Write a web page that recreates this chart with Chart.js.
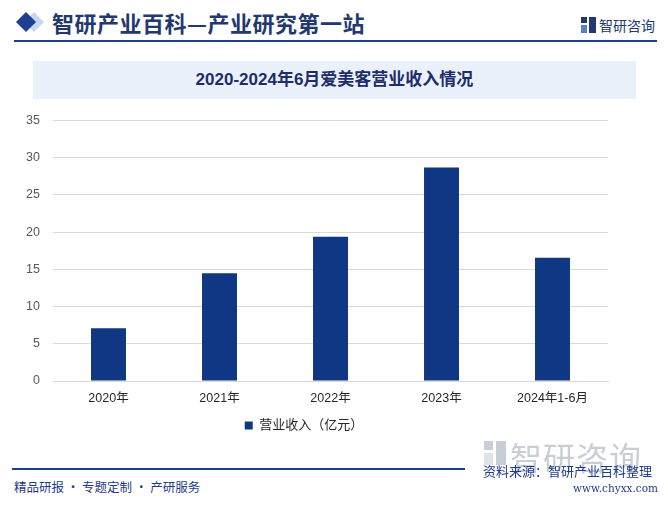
<!DOCTYPE html>
<html>
<head>
<meta charset="utf-8">
<script src="https://cdn.jsdelivr.net/npm/chart.js@4"></script>
<style>
  body { margin: 0; width: 668px; height: 505px; background: #fff; position: relative; overflow: hidden;
         font-family: "Liberation Sans", "Noto Sans CJK SC", sans-serif; }
  .abs { position: absolute; }
  #hdTitle { left: 52px; top: 6px; font-size: 22px; font-weight: bold; color: #22386f; letter-spacing: 0.5px;
             font-family: "Noto Sans CJK SC", sans-serif; }
  #hdLine { left: 14px; top: 40px; width: 643px; height: 2px; background: #1f3f94; }
  #logo { left: 599px; top: 15px; font-size: 14px; color: #22386f; font-family: "Noto Sans CJK SC", sans-serif; }
  #titleBox { left: 33px; top: 61px; width: 603px; height: 38px; background: #eaf1fb; text-align: center;
              line-height: 38px; font-size: 17px; font-weight: bold; color: #1c2d6b; }
  #ftLine { left: 12px; top: 468px; width: 453px; height: 2px; background: #1f3f94; }
  #ftLeft { left: 14px; top: 477px; font-size: 12.5px; color: #1f3b8c; font-family: "Noto Sans CJK SC", sans-serif; }
  #ftWm { left: 510px; top: 433px; font-size: 32px; color: #c9ced6; letter-spacing: 1px; font-family: "Noto Sans CJK SC", sans-serif; }
  #ftSrc { left: 483px; top: 461px; font-size: 13px; color: #1f3b8c; font-family: "Noto Sans CJK SC", sans-serif; }
  #ftUrl { left: 573px; top: 482px; font-size: 10.5px; color: #1f3b8c; font-family: "DejaVu Serif", serif; }
  canvas { position: absolute; left: 0; top: 100px; }
</style>
</head>
<body>
<svg class="abs" style="left:14px;top:10px" width="34" height="24">
  <polygon points="20,2 30,12 20,22 10,12" fill="#c9d6ee"/>
  <polygon points="12,2 22,12 12,22 2,12" fill="#1f3f94"/>
</svg>
<div class="abs" id="hdTitle">智研产业百科—产业研究第一站</div>
<div class="abs" id="hdLine"></div>
<svg class="abs" style="left:581px;top:17px" width="15" height="16">
  <rect x="0" y="0" width="6" height="6" fill="#22386f"/>
  <rect x="0" y="8" width="6" height="8" fill="#5b7fc4"/>
  <rect x="8" y="0" width="7" height="16" fill="#22386f"/>
</svg>
<div class="abs" id="logo">智研咨询</div>
<div class="abs" id="titleBox">2020-2024年6月爱美客营业收入情况</div>

<canvas id="chart" width="668" height="349"></canvas>

<svg class="abs" style="left:484px;top:441px" width="22" height="24">
  <rect x="0" y="0" width="9" height="9" fill="#c9ced6"/>
  <rect x="0" y="12" width="9" height="12" fill="#dde3ea"/>
  <rect x="12" y="0" width="10" height="24" fill="#c9ced6"/>
</svg>
<div class="abs" id="ftWm">智研咨询</div>
<div class="abs" id="ftLine"></div>
<div class="abs" id="ftLeft">精品研报 · 专题定制 · 产研服务</div>
<div class="abs" id="ftSrc">资料来源：智研产业百科整理</div>
<div class="abs" id="ftUrl">www.chyxx.com</div>

<script>
// 数据
const categories = ['2020年', '2021年', '2022年', '2023年', '2024年1-6月'];
const revenue = [7.09, 14.48, 19.39, 28.69, 16.55];
const seriesName = '营业收入（亿元）';
const yTicks = [0, 5, 10, 15, 20, 25, 30, 35];

const fontFam = '"Liberation Sans", "Noto Sans CJK SC", sans-serif';

new Chart(document.getElementById('chart'), {
  type: 'bar',
  data: {
    labels: categories,
    datasets: [{
      label: seriesName,
      data: revenue,
      backgroundColor: '#0f3783',
      borderWidth: 0,
      categoryPercentage: 1,
      barPercentage: 0.315
    }]
  },
  options: {
    responsive: false,
    animation: false,
    layout: { padding: { top: 20, right: 60, left: 0, bottom: 7 } },
    plugins: {
      tooltip: { enabled: false },
      legend: {
        position: 'bottom',
        labels: {
          usePointStyle: true, pointStyle: 'rect', boxWidth: 8, boxHeight: 8, padding: 8,
          color: '#262626', font: { family: fontFam, size: 13 }
        }
      }
    },
    scales: {
      x: {
        grid: { display: false },
        border: { color: '#d9d9d9' },
        ticks: { color: '#262626', padding: 2, font: { family: fontFam, size: 12.5 } },
        afterFit: s => { s.height = 30; }
      },
      y: {
        min: 0, max: 35,
        afterBuildTicks: s => { s.ticks = yTicks.map(v => ({ value: v })); },
        grid: { color: '#d9d9d9', drawTicks: false },
        border: { display: false },
        ticks: { color: '#595959', padding: 13, font: { family: fontFam, size: 12.5 } },
        afterFit: s => { s.width = 53; }
      }
    }
  }
});
</script>
</body>
</html>
